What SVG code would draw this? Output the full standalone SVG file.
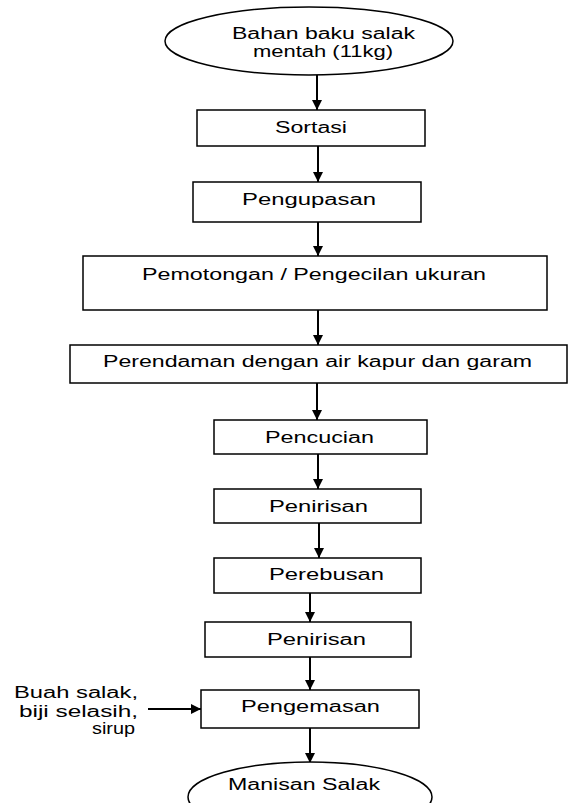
<svg xmlns="http://www.w3.org/2000/svg" width="571" height="803" viewBox="0 0 571 803">
<style>
.box{fill:#fff;stroke:#000;stroke-width:1.5}
.t{font-family:"Liberation Sans",Arial,sans-serif;font-size:16px;fill:#000}
.c{stroke:#000;stroke-width:2;fill:none;marker-end:url(#ah)}
</style>
<defs>
<marker id="ah" markerUnits="userSpaceOnUse" markerWidth="10" markerHeight="10" viewBox="0 0 10 10" refX="10" refY="5" orient="auto">
<path d="M0,0 L10,5 L0,10 Z" fill="#000"/>
</marker>
</defs>
<rect width="571" height="803" fill="#fff"/>
<g id="connectors">
<line class="c" x1="317" y1="75" x2="317" y2="110"/>
<line class="c" x1="318" y1="146" x2="318" y2="182"/>
<line class="c" x1="318" y1="222" x2="318" y2="256"/>
<line class="c" x1="318" y1="310" x2="318" y2="345"/>
<line class="c" x1="317" y1="383" x2="317" y2="420"/>
<line class="c" x1="318" y1="454" x2="318" y2="489"/>
<line class="c" x1="319" y1="523" x2="319" y2="558"/>
<line class="c" x1="310" y1="593" x2="310" y2="622"/>
<line class="c" x1="310" y1="657" x2="310" y2="690"/>
<line class="c" x1="310" y1="728" x2="310" y2="763"/>
<line class="c" x1="148" y1="709" x2="201" y2="709"/>
</g>
<g id="n-bahan">
<ellipse class="box" cx="309" cy="41" rx="144" ry="34"/>
<text class="t" x="232" y="39" textLength="183" lengthAdjust="spacingAndGlyphs">Bahan baku salak</text>
<text class="t" x="253" y="57" textLength="140" lengthAdjust="spacingAndGlyphs">mentah (11kg)</text>
</g>
<g id="n-sortasi">
<rect class="box" x="197" y="110" width="228" height="36"/>
<text class="t" x="275" y="133" textLength="72" lengthAdjust="spacingAndGlyphs">Sortasi</text>
</g>
<g id="n-pengupasan">
<rect class="box" x="193" y="182" width="228" height="40"/>
<text class="t" x="242" y="205" textLength="134" lengthAdjust="spacingAndGlyphs">Pengupasan</text>
</g>
<g id="n-pemotongan">
<rect class="box" x="83" y="256" width="464" height="54"/>
<text class="t" x="142" y="280" textLength="344" lengthAdjust="spacingAndGlyphs">Pemotongan / Pengecilan ukuran</text>
</g>
<g id="n-perendaman">
<rect class="box" x="70" y="345" width="497" height="38"/>
<text class="t" x="103" y="367" textLength="429" lengthAdjust="spacingAndGlyphs">Perendaman dengan air kapur dan garam</text>
</g>
<g id="n-pencucian">
<rect class="box" x="214" y="420" width="213" height="34"/>
<text class="t" x="265" y="443" textLength="109" lengthAdjust="spacingAndGlyphs">Pencucian</text>
</g>
<g id="n-penirisan1">
<rect class="box" x="214" y="489" width="207" height="34"/>
<text class="t" x="269" y="512" textLength="99" lengthAdjust="spacingAndGlyphs">Penirisan</text>
</g>
<g id="n-perebusan">
<rect class="box" x="214" y="558" width="207" height="35"/>
<text class="t" x="269" y="580" textLength="115" lengthAdjust="spacingAndGlyphs">Perebusan</text>
</g>
<g id="n-penirisan2">
<rect class="box" x="205" y="622" width="206" height="35"/>
<text class="t" x="267" y="645" textLength="99" lengthAdjust="spacingAndGlyphs">Penirisan</text>
</g>
<g id="n-pengemasan">
<rect class="box" x="201" y="690" width="218" height="38"/>
<text class="t" x="241" y="712" textLength="139" lengthAdjust="spacingAndGlyphs">Pengemasan</text>
</g>
<g id="n-input">
<text class="t" x="14" y="698" textLength="124" lengthAdjust="spacingAndGlyphs">Buah salak,</text>
<text class="t" x="19" y="717" textLength="119" lengthAdjust="spacingAndGlyphs">biji selasih,</text>
<text class="t" x="92" y="734" textLength="43" lengthAdjust="spacingAndGlyphs">sirup</text>
</g>
<g id="n-manisan">
<ellipse class="box" cx="310" cy="797" rx="122" ry="35"/>
<text class="t" x="228" y="790" textLength="152" lengthAdjust="spacingAndGlyphs">Manisan Salak</text>
</g>
</svg>
